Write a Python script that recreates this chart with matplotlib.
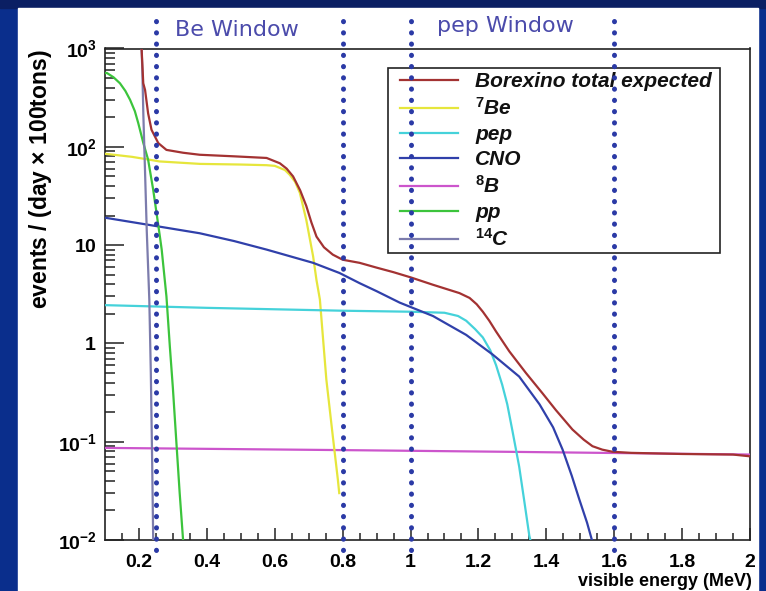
import matplotlib
matplotlib.use("Agg")
import matplotlib.pyplot as plt
from matplotlib.patches import Rectangle
from matplotlib.ticker import FixedLocator, NullFormatter

plt.rcParams["font.family"] = ["Liberation Sans", "DejaVu Sans"]
plt.rcParams["mathtext.fontset"] = "custom"
plt.rcParams["mathtext.rm"] = "Liberation Sans:bold"
plt.rcParams["mathtext.bf"] = "Liberation Sans:bold"
plt.rcParams["mathtext.it"] = "Liberation Sans:bold:italic"

# --- spectra (energy in MeV, events / (day x 100 tons)) ---
total_e = [0.205, 0.208, 0.2127, 0.218, 0.227, 0.237, 0.257, 0.281, 0.33, 0.379,
           0.48, 0.576, 0.615, 0.635, 0.654, 0.675, 0.693, 0.708, 0.723, 0.745,
           0.771, 0.80, 0.85, 0.90, 0.95, 1.0, 1.066, 1.144, 1.174, 1.195,
           1.213, 1.232, 1.252, 1.291, 1.34, 1.389, 1.428, 1.477, 1.51, 1.536,
           1.565, 1.595, 1.65, 1.8, 1.95, 2.0]
total_v = [1500, 966, 443, 379, 219, 149, 109, 93, 87, 83,
           80, 77, 68, 60, 50, 36, 25, 17, 12.2, 9.5,
           8.0, 7.1, 6.6, 5.9, 5.3, 4.7, 3.95, 3.25, 2.9, 2.5,
           2.1, 1.7, 1.32, 0.83, 0.5, 0.31, 0.21, 0.133, 0.105, 0.090,
           0.083, 0.079, 0.077, 0.075, 0.074, 0.071]

be7_e = [0.10, 0.18, 0.23, 0.26, 0.38, 0.50, 0.576, 0.60, 0.615, 0.63,
         0.644, 0.66, 0.674, 0.693, 0.713, 0.723, 0.733, 0.752, 0.771, 0.786, 0.79]
be7_v = [85, 79, 74, 71, 67, 66, 65, 64, 61, 58,
         52, 44, 34, 18, 7.7, 4.4, 2.8, 0.43, 0.114, 0.041, 0.03]

pep_e = [0.10, 0.40, 0.80, 1.0, 1.10, 1.14, 1.164, 1.19, 1.213, 1.235,
         1.252, 1.27, 1.285, 1.30, 1.32, 1.335, 1.35, 1.36]
pep_v = [2.45, 2.3, 2.15, 2.1, 2.05, 1.9, 1.7, 1.4, 1.15, 0.85,
         0.6, 0.38, 0.24, 0.13, 0.056, 0.025, 0.011, 0.008]

cno_e = [0.10, 0.232, 0.379, 0.48, 0.576, 0.713, 0.791, 0.85, 0.90, 0.968,
         1.066, 1.164, 1.242, 1.32, 1.38, 1.42, 1.448, 1.475, 1.497, 1.52, 1.538]
cno_v = [19, 16, 13.2, 11, 9.0, 6.6, 5.2, 4.1, 3.4, 2.6,
         1.9, 1.22, 0.77, 0.46, 0.24, 0.14, 0.083, 0.045, 0.026, 0.015, 0.009]

b8_e = [0.10, 0.85, 1.32, 2.0]
b8_v = [0.0865, 0.0818, 0.0787, 0.074]

pp_e = [0.10, 0.105, 0.125, 0.144, 0.16, 0.174, 0.188, 0.198, 0.213, 0.227,
        0.242, 0.252, 0.262, 0.267, 0.281, 0.291, 0.30, 0.311, 0.32, 0.33, 0.335]
pp_v = [560, 565, 510, 443, 370, 300, 230, 174, 109, 74,
        36.5, 21, 12, 9, 3.0, 0.93, 0.35, 0.09, 0.03, 0.01, 0.006]

c14_e = [0.207, 0.210, 0.213, 0.218, 0.223, 0.2305, 0.235, 0.239, 0.242, 0.244]
c14_v = [1200, 600, 210, 55, 14, 2.8, 0.5, 0.06, 0.01, 0.006]

labels = ["Borexino total expected", r"$^{\mathit{7}}$Be", "pep", "CNO",
          r"$^{\mathit{8}}$B", "pp", r"$^{\mathit{14}}$C"]
colors = ["#a33232", "#e6e63c", "#45d2da", "#3040aa", "#cc55cc", "#3cc43c", "#7c7cac"]

window_edges = [0.25, 0.8, 1.0, 1.6]
x_ticks = [0.2, 0.4, 0.6, 0.8, 1.0, 1.2, 1.4, 1.6, 1.8, 2.0]
x_ticklabels = ["0.2", "0.4", "0.6", "0.8", "1", "1.2", "1.4", "1.6", "1.8", "2"]
y_ticks = [1e-2, 1e-1, 1, 10, 1e2, 1e3]
y_ticklabels = [r"$10^{-2}$", r"$10^{-1}$", r"$1$", r"$10$", r"$10^{2}$", r"$10^{3}$"]

W, H = 766, 591
fig = plt.figure(figsize=(W / 100, H / 100), dpi=100, facecolor="#0a2e8c")
fig.patches.append(Rectangle((0, 1 - 8 / H), 1, 8 / H, transform=fig.transFigure,
                             color="#0b1f63", zorder=-2))
fig.patches.append(Rectangle((18 / W, 0), (758 - 18) / W, (H - 8) / H,
                             transform=fig.transFigure, color="white", zorder=-2))

ax_l, ax_r, ax_t, ax_b = 105, 750, 48.5, 540
ax = fig.add_axes([ax_l / W, (H - ax_b) / H, (ax_r - ax_l) / W, (ax_b - ax_t) / H])
ax.set_facecolor("white")


def ax_x(px):
    return (px - ax_l) / (ax_r - ax_l)


def ax_y(py):
    return (ax_b - py) / (ax_b - ax_t)


series = [(total_e, total_v), (be7_e, be7_v), (pep_e, pep_v), (cno_e, cno_v),
          (b8_e, b8_v), (pp_e, pp_v), (c14_e, c14_v)]
order = [4, 1, 2, 3, 5, 6, 0]
handles = {}
for i in order:
    e, v = series[i]
    (ln,) = ax.plot(e, v, color=colors[i], lw=1.6, label=labels[i], zorder=3)
    handles[i] = ln

ax.set_yscale("log")
ax.set_xlim(0.1, 2.0)
ax.set_ylim(1e-2, 1e3)

ax.xaxis.set_major_locator(FixedLocator(x_ticks))
ax.set_xticklabels(x_ticklabels)
ax.xaxis.set_minor_locator(FixedLocator([0.15 + 0.05 * k for k in range(38)]))
ax.yaxis.set_major_locator(FixedLocator(y_ticks))
ax.set_yticklabels(y_ticklabels)
ax.yaxis.set_minor_locator(FixedLocator([m * 10.0 ** d for d in range(-2, 3) for m in range(2, 10)]))
ax.yaxis.set_minor_formatter(NullFormatter())

ax.tick_params(which="both", direction="in", top=False, right=False, width=1.1,
               color="#222222", labelsize=14)
ax.xaxis.set_tick_params(which="major", length=9, pad=10)
ax.xaxis.set_tick_params(which="minor", length=5)
ax.yaxis.set_tick_params(which="major", length=14, pad=6)
ax.yaxis.set_tick_params(which="minor", length=7)
for lab in ax.get_xticklabels():
    lab.set_fontweight("bold")
for sp in ax.spines.values():
    sp.set_linewidth(1.2)
    sp.set_color("#222222")

ax.set_xlabel("visible energy (MeV)", fontsize=13, fontweight="bold", loc="right")
ax.xaxis.set_label_coords(ax_x(752), ax_y(573))
ax.set_ylabel(r"events / (day $\times$ 100tons)", fontsize=16.5, fontweight="bold",
              loc="top")
ax.yaxis.set_label_coords(ax_x(54), ax_y(49))

# legend: frame drawn as a plain box, entries placed inside it
ax.add_patch(Rectangle((ax_x(388), ax_y(253)), ax_x(720) - ax_x(388),
                       ax_y(68) - ax_y(253), transform=ax.transAxes,
                       facecolor="white", edgecolor="#222222", lw=1.2, zorder=5))
leg = ax.legend([handles[i] for i in range(7)], labels, loc="upper left",
                bbox_to_anchor=(ax_x(400), ax_y(72)), borderaxespad=0, borderpad=0,
                labelspacing=0.29, handlelength=2.8, handletextpad=0.8,
                prop={"size": 15, "weight": "bold", "style": "italic"},
                frameon=False)
leg.set_zorder(5.5)
for t in leg.get_texts():
    t.set_color("#111111")

trans = ax.get_xaxis_transform()
for xe in window_edges:
    ax.plot([xe, xe], [ax_y(550), ax_y(15)], transform=trans, color="#2b3aa6", lw=3.6,
            linestyle=(0, (0.05, 2.2)), dash_capstyle="round", clip_on=False, zorder=6)

fig.text(237 / W, 1 - 30 / H, "Be Window", family="DejaVu Sans", fontsize=16,
         color="#4b4bab", ha="center", va="center")
fig.text(505 / W, 1 - 26 / H, "pep Window", family="DejaVu Sans", fontsize=16,
         color="#4b4bab", ha="center", va="center")

fig.savefig("out.png", dpi=100, facecolor=fig.get_facecolor())
